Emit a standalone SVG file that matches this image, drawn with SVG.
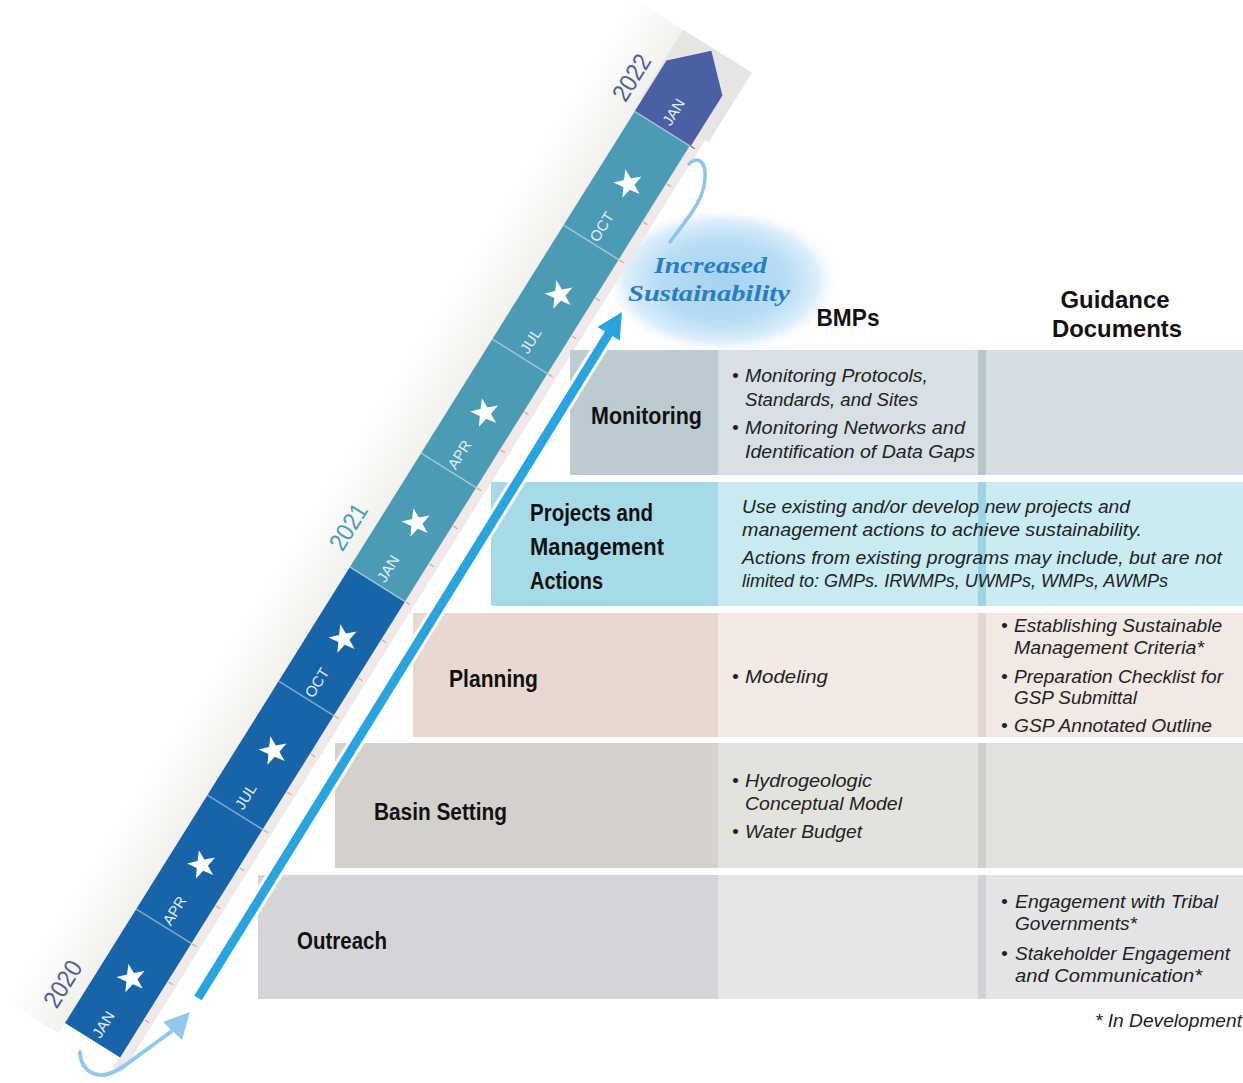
<svg xmlns="http://www.w3.org/2000/svg" width="1243" height="1083" viewBox="0 0 1243 1083">
<defs>
  <radialGradient id="bub" cx="0.5" cy="0.5" r="0.5">
    <stop offset="0" stop-color="#a3d3f1"/>
    <stop offset="0.55" stop-color="#b8ddf4"/>
    <stop offset="0.82" stop-color="#dceefa"/>
    <stop offset="1" stop-color="#ffffff" stop-opacity="0"/>
  </radialGradient>
  <linearGradient id="paper" x1="0" y1="0" x2="0" y2="1">
    <stop offset="0" stop-color="#ffffff"/>
    <stop offset="1" stop-color="#f1f1ed"/>
  </linearGradient>
  <path id="star" d="M0,-15 L3.5,-4.9 L14.3,-4.6 L5.7,1.9 L8.8,12.1 L0,6 L-8.8,12.1 L-5.7,1.9 L-14.3,-4.6 L-3.5,-4.9Z" fill="#ffffff"/>
  <style>
    .lbl{font-family:"Liberation Sans",Arial,sans-serif;font-weight:bold;font-size:23px;fill:#111}
    .txt{font-family:"Liberation Sans",Arial,sans-serif;font-style:italic;font-size:19px;fill:#222}
    .mon{font-family:"Liberation Sans",Arial,sans-serif;font-size:15px;fill:#e3edf5}
    .yr{font-family:"Liberation Sans",Arial,sans-serif;font-size:25px}
    .hdr{font-family:"Liberation Sans",Arial,sans-serif;font-weight:bold;font-size:24px;fill:#111}
    .bub{font-family:"Liberation Serif","Times New Roman",serif;font-weight:bold;font-style:italic;font-size:24px;fill:#2a7dc1}
    .seg{stroke:#ffffff;stroke-opacity:0.45;stroke-width:1.5}
    .tick{stroke:#e2a58e;stroke-width:1.3}
  </style>
</defs>
<rect x="0" y="0" width="1243" height="1083" fill="#ffffff"/>

<!-- bubble -->
<g id="bubble">
  <ellipse cx="722" cy="281" rx="118" ry="74" fill="url(#bub)"/>
</g>

<!-- timeline -->
<g id="timeline" transform="translate(65,1023) rotate(-58)">
  <rect x="-12" y="-60" width="1182" height="60" fill="url(#paper)"/>
  <rect x="-12" y="64" width="1182" height="11" fill="#f0e9e9"/>
  <rect x="1088" y="-2" width="82" height="81" fill="#e7e5e4"/>
  <rect x="0" y="0" width="537.6" height="65" fill="#1764a8"/>
  <rect x="537.6" y="0" width="537.6" height="65" fill="#4c9bb4"/>
  <polygon points="1075,0 1135,0 1167,33 1135,66 1075,66" fill="#4a60a2"/>
  <g class="seg">
    <line x1="134.4" y1="0" x2="134.4" y2="65"/>
    <line x1="268.8" y1="0" x2="268.8" y2="65"/>
    <line x1="403.2" y1="0" x2="403.2" y2="65"/>
    <line x1="537.6" y1="0" x2="537.6" y2="65"/>
    <line x1="672" y1="0" x2="672" y2="65"/>
    <line x1="806.4" y1="0" x2="806.4" y2="65"/>
    <line x1="940.8" y1="0" x2="940.8" y2="65"/>
    <line x1="1075" y1="0" x2="1075" y2="65"/>
  </g>
  <g class="tick">
    <line x1="44.8" y1="66" x2="44.8" y2="71"/><line x1="89.6" y1="66" x2="89.6" y2="71"/><line x1="134.4" y1="66" x2="134.4" y2="71"/>
    <line x1="179.2" y1="66" x2="179.2" y2="71"/><line x1="224" y1="66" x2="224" y2="71"/><line x1="268.8" y1="66" x2="268.8" y2="71"/>
    <line x1="313.6" y1="66" x2="313.6" y2="71"/><line x1="358.4" y1="66" x2="358.4" y2="71"/><line x1="403.2" y1="66" x2="403.2" y2="71"/>
    <line x1="448" y1="66" x2="448" y2="71"/><line x1="492.8" y1="66" x2="492.8" y2="71"/><line x1="537.6" y1="66" x2="537.6" y2="71"/>
    <line x1="582.4" y1="66" x2="582.4" y2="71"/><line x1="627.2" y1="66" x2="627.2" y2="71"/><line x1="672" y1="66" x2="672" y2="71"/>
    <line x1="716.8" y1="66" x2="716.8" y2="71"/><line x1="761.6" y1="66" x2="761.6" y2="71"/><line x1="806.4" y1="66" x2="806.4" y2="71"/>
    <line x1="851.2" y1="66" x2="851.2" y2="71"/><line x1="896" y1="66" x2="896" y2="71"/><line x1="940.8" y1="66" x2="940.8" y2="71"/>
    <line x1="985.6" y1="66" x2="985.6" y2="71"/><line x1="1030.4" y1="66" x2="1030.4" y2="71"/><line x1="1075.2" y1="66" x2="1075.2" y2="71" stroke="#777"/>
  </g>
  <g class="mon" text-anchor="middle">
    <text x="19" y="38.5">JAN</text>
    <text x="153.4" y="38.5">APR</text>
    <text x="287.8" y="38.5">JUL</text>
    <text x="422.2" y="38.5">OCT</text>
    <text x="556.6" y="38.5">JAN</text>
    <text x="691" y="38.5">APR</text>
    <text x="825.4" y="38.5">JUL</text>
    <text x="959.8" y="38.5">OCT</text>
    <text x="1095" y="38.5">JAN</text>
  </g>
  <g class="yr" text-anchor="middle">
    <text x="32" y="-14" fill="#4f5e98" textLength="50" lengthAdjust="spacingAndGlyphs">2020</text>
    <text x="571" y="-14" fill="#4c9bb4" textLength="50" lengthAdjust="spacingAndGlyphs">2021</text>
    <text x="1102" y="-12" fill="#4f5e98" textLength="50" lengthAdjust="spacingAndGlyphs">2022</text>
  </g>
</g>
<g id="stars">
  <use href="#star" transform="translate(131.5,978.5) rotate(-12)"/>
  <use href="#star" transform="translate(202,865) rotate(-12)"/>
  <use href="#star" transform="translate(273.5,751) rotate(-12)"/>
  <use href="#star" transform="translate(343.5,639) rotate(-12)"/>
  <use href="#star" transform="translate(416.5,523) rotate(-12)"/>
  <use href="#star" transform="translate(485,413) rotate(-12)"/>
  <use href="#star" transform="translate(559.5,295) rotate(-12)"/>
  <use href="#star" transform="translate(628.5,184) rotate(-12)"/>
</g>

<!-- bubble text -->
<g id="increased-sustainability" class="bub" text-anchor="middle">
  <text x="710.5" y="273" textLength="113" lengthAdjust="spacingAndGlyphs">Increased</text>
  <text x="709" y="301" textLength="162" lengthAdjust="spacingAndGlyphs">Sustainability</text>
</g>

<!-- headers -->
<g id="headers" class="hdr" text-anchor="middle">
  <text x="848" y="326" textLength="63" lengthAdjust="spacingAndGlyphs">BMPs</text>
  <text x="1115" y="308" textLength="109" lengthAdjust="spacingAndGlyphs">Guidance</text>
  <text x="1117" y="337" textLength="130" lengthAdjust="spacingAndGlyphs">Documents</text>
</g>

<!-- rows -->
<g id="row-monitoring">
  <rect x="570" y="350" width="148" height="125" fill="#bccbd1"/>
  <rect x="718" y="350" width="260" height="125" fill="#d7e0e4"/>
  <rect x="978" y="350" width="8" height="125" fill="#b7c6cc"/>
  <rect x="986" y="350" width="257" height="125" fill="#d5dee2"/>
  <text class="lbl" x="591" y="424" textLength="111" lengthAdjust="spacingAndGlyphs">Monitoring</text>
  <text class="txt"><tspan x="732" y="382">•</tspan><tspan x="745" y="382" textLength="183" lengthAdjust="spacingAndGlyphs">Monitoring Protocols,</tspan></text>
  <text class="txt" x="745" y="406" textLength="173" lengthAdjust="spacingAndGlyphs">Standards, and Sites</text>
  <text class="txt"><tspan x="732" y="434">•</tspan><tspan x="745" y="434" textLength="220" lengthAdjust="spacingAndGlyphs">Monitoring Networks and</tspan></text>
  <text class="txt" x="745" y="458" textLength="230" lengthAdjust="spacingAndGlyphs">Identification of Data Gaps</text>
</g>
<g id="row-projects">
  <rect x="491" y="482" width="227" height="124" fill="#a6dae6"/>
  <rect x="718" y="482" width="260" height="124" fill="#c8eaf1"/>
  <rect x="978" y="482" width="8" height="124" fill="#9fd5e2"/>
  <rect x="986" y="482" width="257" height="124" fill="#c9ebf2"/>
  <text class="lbl" x="530" y="521" textLength="123" lengthAdjust="spacingAndGlyphs">Projects and</text>
  <text class="lbl" x="530" y="555" textLength="134" lengthAdjust="spacingAndGlyphs">Management</text>
  <text class="lbl" x="530" y="589" textLength="73" lengthAdjust="spacingAndGlyphs">Actions</text>
  <text class="txt" x="742" y="513" textLength="388" lengthAdjust="spacingAndGlyphs">Use existing and/or develop new projects and</text>
  <text class="txt" x="742" y="536" textLength="400" lengthAdjust="spacingAndGlyphs">management actions to achieve sustainability.</text>
  <text class="txt" x="742" y="564" textLength="480" lengthAdjust="spacingAndGlyphs">Actions from existing programs may include, but are not</text>
  <text class="txt" x="742" y="587" textLength="426" lengthAdjust="spacingAndGlyphs">limited to: GMPs. IRWMPs, UWMPs, WMPs, AWMPs</text>
</g>
<g id="row-planning">
  <rect x="413" y="613" width="305" height="124" fill="#e9d8cf"/>
  <rect x="718" y="613" width="260" height="124" fill="#f3e9e5"/>
  <rect x="978" y="613" width="8" height="124" fill="#e5d6cf"/>
  <rect x="986" y="613" width="257" height="124" fill="#f2e8e4"/>
  <text class="lbl" x="449" y="687" textLength="89" lengthAdjust="spacingAndGlyphs">Planning</text>
  <text class="txt"><tspan x="732" y="683">•</tspan><tspan x="745" y="683" textLength="83" lengthAdjust="spacingAndGlyphs">Modeling</tspan></text>
  <text class="txt"><tspan x="1001" y="632">•</tspan><tspan x="1014" y="632" textLength="208" lengthAdjust="spacingAndGlyphs">Establishing Sustainable</tspan></text>
  <text class="txt" x="1014" y="654" textLength="190" lengthAdjust="spacingAndGlyphs">Management Criteria*</text>
  <text class="txt"><tspan x="1001" y="683">•</tspan><tspan x="1014" y="683" textLength="209" lengthAdjust="spacingAndGlyphs">Preparation Checklist for</tspan></text>
  <text class="txt" x="1014" y="704" textLength="123" lengthAdjust="spacingAndGlyphs">GSP Submittal</text>
  <text class="txt"><tspan x="1001" y="732">•</tspan><tspan x="1014" y="732" textLength="198" lengthAdjust="spacingAndGlyphs">GSP Annotated Outline</tspan></text>
</g>
<g id="row-basin-setting">
  <rect x="335" y="743" width="383" height="125" fill="#d4d1cc"/>
  <rect x="718" y="743" width="260" height="125" fill="#e3e2dd"/>
  <rect x="978" y="743" width="8" height="125" fill="#d0cec9"/>
  <rect x="986" y="743" width="257" height="125" fill="#e2e1dc"/>
  <text class="lbl" x="374" y="820" textLength="133" lengthAdjust="spacingAndGlyphs">Basin Setting</text>
  <text class="txt"><tspan x="732" y="787">•</tspan><tspan x="745" y="787" textLength="127" lengthAdjust="spacingAndGlyphs">Hydrogeologic</tspan></text>
  <text class="txt" x="745" y="810" textLength="157" lengthAdjust="spacingAndGlyphs">Conceptual Model</text>
  <text class="txt"><tspan x="732" y="838">•</tspan><tspan x="745" y="838" textLength="117" lengthAdjust="spacingAndGlyphs">Water Budget</tspan></text>
</g>
<g id="row-outreach">
  <rect x="258" y="875" width="460" height="124" fill="#d5d5d9"/>
  <rect x="718" y="875" width="260" height="124" fill="#e5e5e8"/>
  <rect x="978" y="875" width="8" height="124" fill="#d2d2d6"/>
  <rect x="986" y="875" width="257" height="124" fill="#e4e4e7"/>
  <text class="lbl" x="297" y="949" textLength="90" lengthAdjust="spacingAndGlyphs">Outreach</text>
  <text class="txt"><tspan x="1001" y="908">•</tspan><tspan x="1015" y="908" textLength="203" lengthAdjust="spacingAndGlyphs">Engagement with Tribal</tspan></text>
  <text class="txt" x="1015" y="930" textLength="122" lengthAdjust="spacingAndGlyphs">Governments*</text>
  <text class="txt"><tspan x="1001" y="960">•</tspan><tspan x="1015" y="960" textLength="215" lengthAdjust="spacingAndGlyphs">Stakeholder Engagement</tspan></text>
  <text class="txt" x="1015" y="982" textLength="187" lengthAdjust="spacingAndGlyphs">and Communication*</text>
</g>
<g id="footnote">
  <text class="txt" x="1095" y="1027" textLength="147" lengthAdjust="spacingAndGlyphs">* In Development</text>
</g>

<!-- connectors -->
<g id="connectors">
  <line x1="198" y1="998" x2="608.6" y2="333.7" stroke="#ffffff" stroke-width="15"/>
  <polygon points="597.5,326.9 622,312 619.7,340.5" fill="#ffffff" stroke="#ffffff" stroke-width="5" stroke-linejoin="round"/>
  <line x1="198" y1="998" x2="609.5" y2="332.5" stroke="#29a4de" stroke-width="9"/>
  <polygon points="597.5,326.9 622,312 619.7,340.5" fill="#29a4de"/>
  <path d="M80,1052 C80,1066 90,1076 104,1075 C112,1074 118,1070 124,1066 L172,1031" fill="none" stroke="#93c8ea" stroke-width="4" stroke-linecap="round"/>
  <polygon points="163,1022 190,1012 182,1040" fill="#93c8ea"/>
  <path d="M689,164 C697,156 706,160 705,178 C704,200 690,215 670,242" fill="none" stroke="#8dc5ea" stroke-width="3.5" stroke-linecap="round"/>
</g>
</svg>
